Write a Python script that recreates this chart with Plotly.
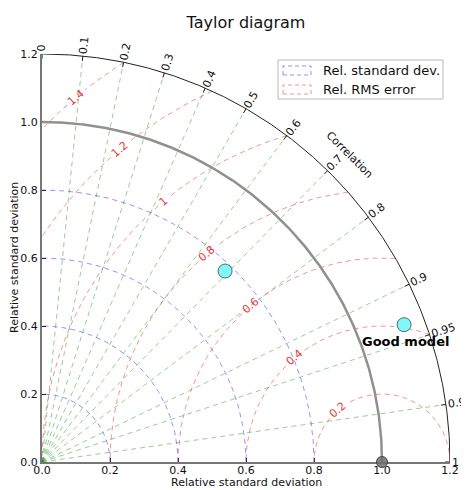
import numpy as np
import plotly.graph_objects as go

# ---------------- data ----------------
title_text = "Taylor diagram"
axis_title = "Relative standard deviation"
ref_std = 1.0
max_std = 1.2
std_levels = [0.2, 0.4, 0.6, 0.8]
rms_levels = [0.2, 0.4, 0.6, 0.8, 1.0, 1.2, 1.4]
rms_labels = ["0.2", "0.4", "0.6", "0.8", "1", "1.2", "1.4"]
rms_label_angle = [130, 130, 130, 130, 130, 130, 130]  # degrees around ref point
corr_ticks = [0, 0.1, 0.2, 0.3, 0.4, 0.5, 0.6, 0.7, 0.8, 0.9, 0.95, 0.99, 1]
corr_labels = ["0", "0.1", "0.2", "0.3", "0.4", "0.5", "0.6", "0.7", "0.8", "0.9", "0.95", "0.99", "1"]
axis_ticks = [0.0, 0.2, 0.4, 0.6, 0.8, 1.0, 1.2]
axis_tick_labels = ["0.0", "0.2", "0.4", "0.6", "0.8", "1.0", "1.2"]
model_std = [0.778, 1.139]
model_corr = [0.692, 0.935]
model_names = ["", "Good model"]
legend_labels = ["Rel. standard dev.", "Rel. RMS error"]

# ---------------- layout constants ----------------
OFF = 8  # page body margin
PAGE_W, PAGE_H = 469, 490
PLOT_L, PLOT_T, PLOT_R, PLOT_B = 42, 54, 450, 462  # page pixels
W, H = PAGE_W - OFF, PAGE_H - OFF
ML, MT = PLOT_L - OFF, PLOT_T - OFF
MR, MB = PAGE_W - PLOT_R, PAGE_H - PLOT_B
PW = PLOT_R - PLOT_L
PH = PLOT_B - PLOT_T
PX_PER_UNIT = PW / max_std
FONT = "DejaVu Sans"

GREEN = "rgba(0,140,0,0.42)"
BLUE = "rgba(40,40,255,0.5)"
RED = "rgba(235,40,40,0.5)"
RED_TXT = "#e03a3a"
DASH = "5px,4px"

def text_w(s, size):
    w = 0
    for ch in s:
        w += 0.318 if ch == "." else 0.636
    return w * size

def px2p(px, py):
    return (px - PLOT_L) / PW, (PLOT_B - py) / PH

def d2p(x, y):
    return x / max_std, y / max_std

fig = go.Figure()

# correlation grid lines (green)
gx, gy = [], []
for c in corr_ticks:
    if c in (0, 1):
        continue
    th = np.arccos(c)
    gx += [0, max_std * np.cos(th), None]
    gy += [0, max_std * np.sin(th), None]
fig.add_trace(go.Scatter(x=gx, y=gy, mode="lines", line=dict(color=GREEN, width=1, dash=DASH),
                         hoverinfo="skip", showlegend=False))

# std dev circles (blue)
t = np.linspace(0, np.pi / 2, 300)
for s in std_levels:
    fig.add_trace(go.Scatter(x=s * np.cos(t), y=s * np.sin(t), mode="lines",
                             line=dict(color=BLUE, width=1, dash=DASH), hoverinfo="skip", showlegend=False))

# RMS contours (red), with gap for labels
annotations = []
for R, lab, ang in zip(rms_levels, rms_labels, rms_label_angle):
    cphi = np.clip((max_std ** 2 - ref_std ** 2 - R ** 2) / (2 * ref_std * R), -1, 1)
    phi0 = np.arccos(cphi)
    phi = np.linspace(phi0, np.pi, 1500)
    a = np.radians(ang)
    gap = (text_w(lab, 11) / 2 + 3) / (R * PX_PER_UNIT)
    xs = ref_std + R * np.cos(phi)
    ys = R * np.sin(phi)
    mask = np.abs(phi - a) < gap
    xs = np.where(mask, np.nan, xs)
    ys = np.where(mask, np.nan, ys)
    fig.add_trace(go.Scatter(x=xs, y=ys, mode="lines", line=dict(color=RED, width=1, dash=DASH),
                             hoverinfo="skip", showlegend=False))
    annotations.append(dict(x=ref_std + R * np.cos(a), y=R * np.sin(a), xref="x", yref="y",
                            text=lab, showarrow=False, textangle=-(ang - 90),
                            font=dict(family=FONT, size=11, color=RED_TXT),
                            xanchor="center", yanchor="middle"))

# reference circle
t2 = np.linspace(0, np.pi / 2, 400)
fig.add_trace(go.Scatter(x=ref_std * np.cos(t2), y=ref_std * np.sin(t2), mode="lines",
                         line=dict(color="#909090", width=2.5), hoverinfo="skip", showlegend=False))
# outer arc
fig.add_trace(go.Scatter(x=max_std * np.cos(t2), y=max_std * np.sin(t2), mode="lines",
                         line=dict(color="#222222", width=1), hoverinfo="skip", showlegend=False))

# correlation tick marks and labels
tx, ty = [], []
tick_len = 5 / PX_PER_UNIT
for c, lab in zip(corr_ticks, corr_labels):
    th = np.arccos(c)
    tx += [max_std * np.cos(th), (max_std - tick_len) * np.cos(th), None]
    ty += [max_std * np.sin(th), (max_std - tick_len) * np.sin(th), None]
    rr = max_std + (2 + text_w(lab, 11) / 2) / PX_PER_UNIT
    px_, py_ = d2p(rr * np.cos(th), rr * np.sin(th))
    annotations.append(dict(x=px_, y=py_, xref="paper", yref="paper",
                            text=lab, showarrow=False, textangle=-np.degrees(th),
                            font=dict(family=FONT, size=11, color="#111111"),
                            xanchor="center", yanchor="middle"))
fig.add_trace(go.Scatter(x=tx, y=ty, mode="lines", line=dict(color="#222222", width=1),
                         hoverinfo="skip", showlegend=False))

# "Correlation" label
rc = max_std + 0.077
cx_, cy_ = d2p(rc * np.cos(np.pi / 4), rc * np.sin(np.pi / 4))
annotations.append(dict(x=cx_, y=cy_, xref="paper", yref="paper",
                        text="Correlation", showarrow=False, textangle=45,
                        xanchor="center", yanchor="middle",
                        font=dict(family=FONT, size=11, color="#111111")))

# reference point
fig.add_trace(go.Scatter(x=[ref_std], y=[0], mode="markers", cliponaxis=False,
                         marker=dict(size=11, color="rgba(110,110,110,0.85)", line=dict(color="#444", width=1)),
                         hoverinfo="skip", showlegend=False))

# models
mx = [s * c for s, c in zip(model_std, model_corr)]
my = [s * np.sqrt(1 - c ** 2) for s, c in zip(model_std, model_corr)]
fig.add_trace(go.Scatter(x=mx, y=my, mode="markers", cliponaxis=False,
                         marker=dict(size=14, color="#80f8f8", line=dict(color="#4a6e6e", width=1)),
                         hoverinfo="skip", showlegend=False))
for x0, y0, name in zip(mx, my, model_names):
    if name:
        annotations.append(dict(x=x0, y=y0, xref="x", yref="y", text="<b>" + name + "</b>",
                                showarrow=False, yshift=-17, xshift=1,
                                font=dict(family=FONT, size=13, color="black")))

# axis titles
annotations.append(dict(x=0.5, y=0, xref="paper", yref="paper", text=axis_title, showarrow=False,
                        yshift=-20, xanchor="center", yanchor="middle",
                        font=dict(family=FONT, size=11, color="#111111")))
annotations.append(dict(x=0, y=0.5, xref="paper", yref="paper", text=axis_title, showarrow=False,
                        xshift=-28, textangle=-90, xanchor="center", yanchor="middle",
                        font=dict(family=FONT, size=11, color="#111111")))

# manual legend
shapes = []
bx0, by0 = px2p(278, 60)
bx1, by1 = px2p(443, 99)
shapes.append(dict(type="rect", xref="paper", yref="paper", x0=bx0, y0=by1, x1=bx1, y1=by0,
                   line=dict(color="#b8b8b8", width=1), fillcolor="white", layer="above"))
for i, (lab, col) in enumerate(zip(legend_labels, [BLUE, RED])):
    top = 66 + i * 19
    ix0, iy0 = px2p(283, top)
    ix1, iy1 = px2p(311, top + 9)
    shapes.append(dict(type="rect", xref="paper", yref="paper", x0=ix0, y0=iy1, x1=ix1, y1=iy0,
                       line=dict(color=col, width=1, dash="4px,3px"), fillcolor="rgba(0,0,0,0)", layer="above"))
    lx, ly = px2p(321, top + 4.5)
    annotations.append(dict(x=lx, y=ly, xref="paper", yref="paper", text=lab, showarrow=False,
                            xanchor="left", yanchor="middle",
                            font=dict(family=FONT, size=13, color="#111111")))

axis_common = dict(range=[0, max_std], tickvals=axis_ticks, ticktext=axis_tick_labels,
                   ticks="inside", ticklen=4, tickcolor="#222", showline=True, linecolor="#777777",
                   linewidth=2, showgrid=False, zeroline=False, fixedrange=True, layer="below traces",
                   tickfont=dict(family=FONT, size=11, color="#111111"))

fig.update_layout(
    width=W, height=H,
    margin=dict(l=ML, r=MR, t=MT, b=MB, autoexpand=False),
    paper_bgcolor="white", plot_bgcolor="white",
    title=dict(text=title_text, x=0.5, xref="paper", y=1 - (22 - OFF) / H, yref="container",
               xanchor="center", yanchor="middle", font=dict(family=FONT, size=16, color="#111111")),
    xaxis=dict(**axis_common, ticklabelstandoff=-3),
    yaxis=dict(**axis_common),
    annotations=annotations,
    shapes=shapes,
    showlegend=False,
)

fig.write_html("out.html")
